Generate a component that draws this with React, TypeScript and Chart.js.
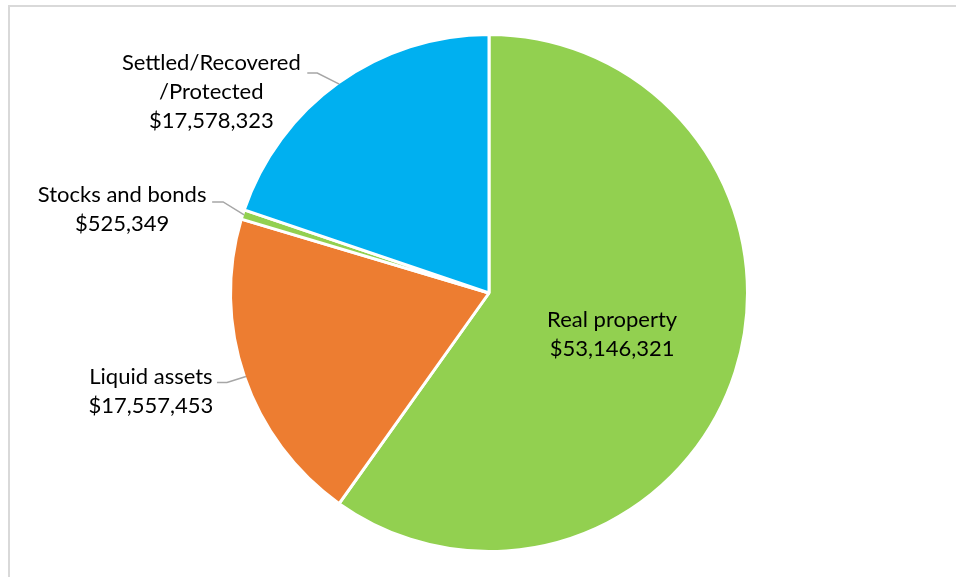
import React, { useEffect, useRef } from "react";
import { Chart, registerables } from "chart.js";

Chart.register(...registerables);

const categories = ["Real property", "Liquid assets", "Stocks and bonds", "Settled/Recovered/Protected"];
const labelLines = [["Real property"], ["Liquid assets"], ["Stocks and bonds"], ["Settled/Recovered", "/Protected"]];
const values = [53146321, 17557453, 525349, 17578323];
const colors = ["#92d050", "#ed7d31", "#92d050", "#00b0f0"];

const FONT = "22px Lato";
const LINE_H = 29;

// label layout relative to the slice's outer mid point (null = inside label)
const LAYOUT: any[] = [
  null,
  { elbow: [-19, 6], end: [-29, 6], text: [-95, 0] },
  { elbow: [-21, -13], end: [-32, -13], text: [-122, -20] },
  { elbow: [-22, -11], end: [-32, -11], text: [-128, -21] },
];

const fmt = (v: number) => "$" + v.toLocaleString("en-US");

const labelPlugin = {
  id: "pieLabels",
  afterDatasetsDraw(chart: any) {
    const ctx = chart.ctx;
    const meta = chart.getDatasetMeta(0);
    ctx.save();
    ctx.font = FONT;
    ctx.fillStyle = "#000";
    ctx.textAlign = "center";
    ctx.textBaseline = "middle";
    meta.data.forEach((arc: any, i: number) => {
      const { x, y, startAngle, endAngle, outerRadius } = arc.getProps(
        ["x", "y", "startAngle", "endAngle", "outerRadius"],
        true
      );
      const mid = (startAngle + endAngle) / 2;
      const lines = [...labelLines[i], fmt(values[i])];
      const lay = LAYOUT[i];
      if (!lay) {
        const cx = x + Math.cos(mid) * outerRadius * 0.5;
        const cy = y + Math.sin(mid) * outerRadius * 0.5 + 2;
        const top = cy - ((lines.length - 1) * LINE_H) / 2;
        lines.forEach((t, k) => ctx.fillText(t, cx, top + k * LINE_H));
        return;
      }
      const r = outerRadius - 1.5;
      const ex = x + Math.cos(mid) * r;
      const ey = y + Math.sin(mid) * r;
      ctx.strokeStyle = "#a6a6a6";
      ctx.lineWidth = 1.5;
      ctx.beginPath();
      ctx.moveTo(ex, ey);
      ctx.lineTo(ex + lay.elbow[0], ey + lay.elbow[1]);
      ctx.lineTo(ex + lay.end[0], ey + lay.end[1]);
      ctx.stroke();
      const tx = ex + lay.text[0];
      const ty = ey + lay.text[1];
      lines.forEach((t, k) => ctx.fillText(t, tx, ty + k * LINE_H));
    });
    ctx.restore();
  },
};

export default function App() {
  const ref = useRef<HTMLCanvasElement>(null);
  useEffect(() => {
    if (!ref.current) return;
    const chart = new Chart(ref.current, {
      type: "pie",
      data: {
        labels: categories,
        datasets: [
          {
            data: values,
            backgroundColor: colors,
            borderColor: "#ffffff",
            borderWidth: 3,
          },
        ],
      },
      options: {
        responsive: false,
        animation: false,
        radius: 258.5,
        layout: { padding: { left: 22, right: 0, top: 9, bottom: 0 } },
        plugins: { legend: { display: false }, tooltip: { enabled: false } },
      } as any,
      plugins: [labelPlugin],
    });
    return () => chart.destroy();
  }, []);
  return (
    <div style={{ position: "fixed", left: 0, top: 0, width: 956, height: 577, overflow: "hidden", background: "#fff" }}>
      <div
        style={{
          position: "absolute",
          left: 8,
          top: 5,
          width: 1000,
          height: 1000,
          border: "2px solid #d9d9d9",
          boxSizing: "border-box",
        }}
      />
      <canvas ref={ref} width={956} height={577} style={{ position: "absolute", left: 0, top: 0 }} />
    </div>
  );
}
